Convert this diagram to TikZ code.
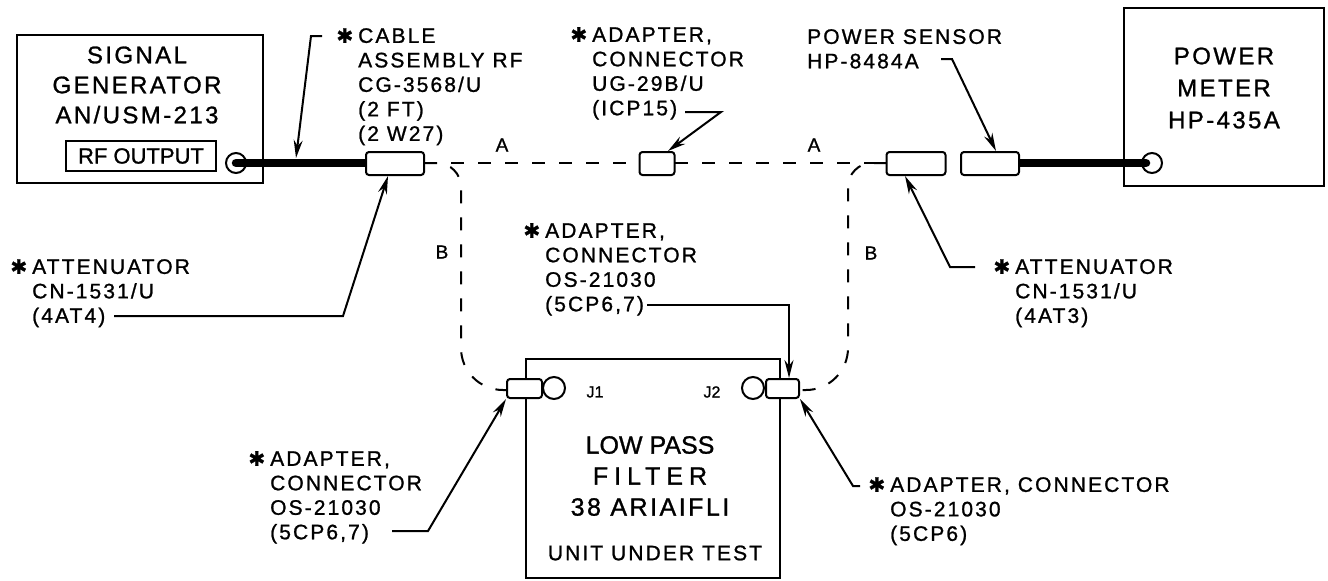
\documentclass[tikz,border=0pt]{standalone}
\usepackage{fontspec}
\setmainfont[FakeBold=1.1]{Liberation Sans}
\newfontfamily\letterfont[FakeBold=1.1, LetterSpace=10]{Liberation Sans}
\newfontfamily\widefont[FakeBold=1.1, LetterSpace=24]{Liberation Sans}
\newfontfamily\symbolfont[FakeBold=1.1]{DejaVu Sans}
\usetikzlibrary{arrows.meta, positioning, calc}
\newcommand{\starmark}{\llap{{\symbolfont\fontsize{20}{20}\selectfont ✱}\hspace{5pt}}}

\begin{document}
\begin{tikzpicture}[
    x=1pt, y=-1pt,
    unit/.style={rectangle, draw=black, line width=2pt, inner sep=0pt},
    adapter/.style={rectangle, draw=black, line width=2pt, rounded corners=3pt, fill=white, inner sep=0pt},
    jack/.style={circle, draw=black, line width=2pt, fill=white, minimum size=22pt, inner sep=0pt},
    unittext/.style={align=center, font=\letterfont\fontsize{24}{30}\selectfont, inner sep=0pt},
    partlabel/.style={align=left, anchor=north west, inner sep=0pt, font=\letterfont\fontsize{21}{24.5}\selectfont},
    pathlabel/.style={inner sep=0pt, font=\fontsize{19}{19}\selectfont},
    jacklabel/.style={inner sep=0pt, font=\fontsize{16}{16}\selectfont},
    coax/.style={line width=8.5pt, line cap=round},
    dashline/.style={line width=2pt, dash pattern=on 13pt off 14pt},
    lead/.style={-{Stealth[length=18pt,width=9pt]}, line width=2pt}
]
\useasboundingbox (0,0) rectangle (1328,581);

% test equipment
\node[unit, minimum width=246pt, minimum height=148pt] (siggen) at (140,109) {};
\node[unit, minimum width=200pt, minimum height=178pt] (meter) at (1224,97) {};
\node[unit, minimum width=254pt, minimum height=219pt] (filter) at (653,468.5) {};
\node[unittext] (siggentext) at (137,85) {SIGNAL\\GENERATOR\\AN/USM-213};
\node[unittext, font=\letterfont\fontsize{24}{32}\selectfont] (metertext) at (1224,88) {POWER\\METER\\HP-435A};
\node[unit, font=\fontsize{22}{22}\selectfont, minimum width=150pt, minimum height=30pt, line width=2.5pt] (rfoutput) at (141,156) {RF OUTPUT};
\node[unittext, font=\letterfont\fontsize{25}{31}\selectfont] (filtertext) at (650,476) {{\rmfamily LOW PASS}\\{\widefont FILTER}\\38 ARIAIFLI};
\node[inner sep=0pt, font=\letterfont\fontsize{21}{21}\selectfont] (uuttext) at (655,553) {UNIT UNDER TEST};

% jacks
\node[jack, minimum size=20pt] (genjack) at (236,163) {};
\node[jack, minimum size=20pt] (meterjack) at (1152,163) {};
\node[jack] (jone) at (554,388) {};
\node[jack] (jtwo) at (753,388) {};

% cables
\draw[coax] (genjack.center) -- (366,163);
\draw[coax] (1019,163) -- (1146,163);

\coordinate (cornerleft) at (461,163);
\coordinate (dropleft) at (461,390);
\coordinate (cornerright) at (848,163);
\coordinate (dropright) at (848,390);
\draw[dashline] (424,163) -- (640,163);
\draw[dashline] (675,163) -- (887,163);
\draw[dashline, rounded corners=24pt] (424,163) -- (cornerleft) [rounded corners=42pt] -- (dropleft) -- (507,390);
\draw[dashline, rounded corners=24pt] (887,163) -- (cornerright) [rounded corners=42pt] -- (dropright) -- (799,390);

% adapters and attenuators
\node[adapter, minimum width=58pt, minimum height=23pt] (attnleft) at (395,163.5) {};
\node[adapter, minimum width=35pt, minimum height=23pt] (adaptop) at (657,163.5) {};
\node[adapter, minimum width=59pt, minimum height=23pt] (attnright) at (916,163.5) {};
\node[adapter, minimum width=58pt, minimum height=23pt] (sensor) at (990,163.5) {};
\node[adapter, minimum width=35pt, minimum height=19pt] (adapone) at (524.5,388.5) {};
\node[adapter, minimum width=33pt, minimum height=19pt] (adaptwo) at (782.5,388.5) {};

\node[pathlabel] (pathaone) at (502,145) {A};
\node[pathlabel] (pathatwo) at (814,145) {A};
\node[pathlabel] (pathbone) at (442,252) {B};
\node[pathlabel] (pathbtwo) at (871,253) {B};
\node[jacklabel] (jonetext) at (595,392) {J1};
\node[jacklabel] (jtwotext) at (712,392) {J2};

% part labels
\node[partlabel] (cablelabel) at (358,28) {\starmark CABLE\\ASSEMBLY RF\\CG-3568/U\\(2 FT)\\(2 W27)};
\node[partlabel] (adaptoplabel) at (592,27) {\starmark ADAPTER,\\CONNECTOR\\UG-29B/U\\(ICP15)};
\node[partlabel] (sensorlabel) at (807,29) {POWER SENSOR\\HP-8484A};
\node[partlabel] (attnleftlabel) at (32,259) {\starmark ATTENUATOR\\CN-1531/U\\(4AT4)};
\node[partlabel] (attnrightlabel) at (1015,259) {\starmark ATTENUATOR\\CN-1531/U\\(4AT3)};
\node[partlabel] (adapmidlabel) at (545,223) {\starmark ADAPTER,\\CONNECTOR\\OS-21030\\(5CP6,7)};
\node[partlabel] (adaponelabel) at (270,451) {\starmark ADAPTER,\\CONNECTOR\\OS-21030\\(5CP6,7)};
\node[partlabel] (adaptwolabel) at (890,477) {\starmark ADAPTER, CONNECTOR\\OS-21030\\(5CP6)};

% leaders
\draw[lead] (322,36) -- (311,36) -- (296,158);
\draw[lead] (941,59) -- (952,59) -- ($(sensor.north)+(6,0)$);
\draw[lead] (685,112) -- (721,112) -- ($(adaptop.north)+(11,0)$);
\draw[lead] (114,316) -- (343,316) -- ($(attnleft.south)+(-7,0)$);
\draw[lead] (975,267) -- (950,267) -- ($(attnright.south)+(-11,0)$);
\draw[lead] (647,305) -- (789,305) -- ($(adaptwo.north)+(6.5,0)$);
\draw[lead] (392,531) -- (428,531) -- (adapone.south west);
\draw[lead] (860,486) -- (853,486) -- (adaptwo.south east);
\end{tikzpicture}
\end{document}
